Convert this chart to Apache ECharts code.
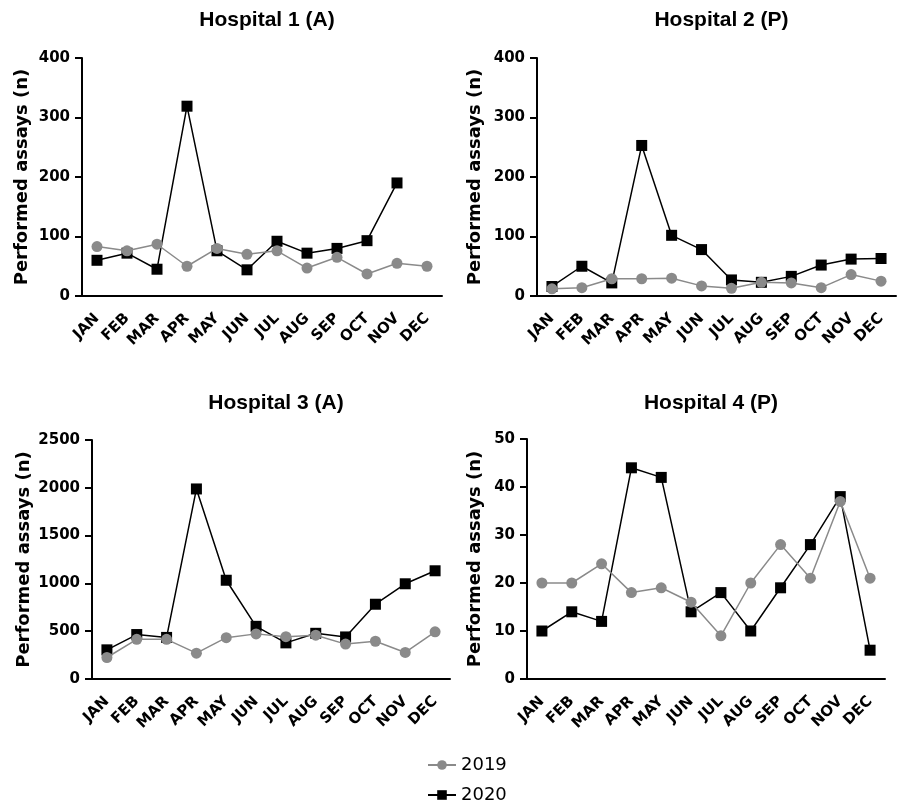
<!DOCTYPE html>
<html>
<head>
<meta charset="utf-8">
<script src="https://cdn.jsdelivr.net/npm/echarts@6/dist/echarts.min.js"></script>
<style>
html,body{margin:0;padding:0;background:#fff;}
#chart{width:899px;height:805px;}
</style>
</head>
<body>
<div id="chart"></div>
<script>
const months = ['JAN','FEB','MAR','APR','MAY','JUN','JUL','AUG','SEP','OCT','NOV','DEC'];
const titles = ['Hospital 1 (A)','Hospital 2 (P)','Hospital 3 (A)','Hospital 4 (P)'];
const seriesNames = ['2019','2020'];

const h1_2019 = [83,76,87,50,80,70,76,47,65,37,55,50];
const h1_2020 = [60,72,45,319,76,44,92,72,80,93,190,null];
const h2_2019 = [12,14,29,29,30,17,13,23,22,14,36,25];
const h2_2020 = [16,50,22,253,102,78,27,23,33,52,62,63];
const h3_2019 = [225,415,415,270,432,472,443,458,365,395,278,493];
const h3_2020 = [305,465,435,1988,1033,551,378,478,440,782,996,1132];
const h4_2019 = [20,20,24,18,19,16,9,20,28,21,37,21];
const h4_2020 = [10,14,12,44,42,14,18,10,19,28,38,6];

const yMax = [400,400,2500,50];
const yInterval = [100,100,500,10];

const data2019 = [h1_2019,h2_2019,h3_2019,h4_2019];
const data2020 = [h1_2020,h2_2020,h3_2020,h4_2020];

const grids = [
  {left:82, top:58, width:360, height:238},
  {left:537, top:58, width:359, height:238},
  {left:92, top:440, width:358, height:239},
  {left:527, top:439, width:358, height:240}
];
const titleTops = [5, 5, 388, 388];
const nameGaps = [51, 53, 59, 43];

const FONT = 'DejaVu Sans';
const gray = '#8a8a8a';

const option = {
  animation:false,
  backgroundColor:'#fff',
  title: titles.map((t,i)=>({
    text:t,
    left: grids[i].left + grids[i].width/2,
    top: titleTops[i],
    textAlign:'center',
    textStyle:{fontFamily:'Liberation Sans',fontWeight:'bold',fontSize:21,color:'#000'}
  })),
  legend: seriesNames.map((n,k)=>({
    data:[n],
    orient:'vertical',
    left:422,
    top:751 + k*30,
    itemWidth:28,
    itemHeight:12,
    textStyle:{fontFamily:FONT,fontSize:18,color:'#000'}
  })),
  grid: grids,
  xAxis: grids.map((g,i)=>({
    type:'category',
    gridIndex:i,
    data:months,
    boundaryGap:true,
    axisLine:{lineStyle:{color:'#000',width:2}},
    axisTick:{alignWithLabel:true,length:8,lineStyle:{color:'#000',width:2}},
    axisLabel:{rotate:45,margin:20,interval:0,fontFamily:FONT,fontWeight:'bold',fontSize:15,color:'#000'}
  })),
  yAxis: grids.map((g,i)=>({
    type:'value',
    gridIndex:i,
    min:0,
    max:yMax[i],
    interval:yInterval[i],
    name:'Performed assays (n)',
    nameLocation:'middle',
    nameGap:nameGaps[i],
    nameTextStyle:{fontFamily:FONT,fontWeight:'bold',fontSize:18,color:'#000'},
    splitLine:{show:false},
    axisLine:{show:true,lineStyle:{color:'#000',width:2}},
    axisTick:{show:true,length:7,lineStyle:{color:'#000',width:2}},
    axisLabel:{margin:12,fontFamily:FONT,fontWeight:'bold',fontSize:15,color:'#000',formatter:v=>String(v)}
  })),
  series: []
};

for (let i=0;i<4;i++){
  option.series.push({
    name:'2020',
    type:'line',
    xAxisIndex:i, yAxisIndex:i,
    data:data2020[i],
    symbol:'rect',
    symbolSize:11,
    z:2,
    itemStyle:{color:'#000'},
    lineStyle:{color:'#000',width:1.5}
  });
  option.series.push({
    name:'2019',
    type:'line',
    xAxisIndex:i, yAxisIndex:i,
    data:data2019[i],
    symbol:'circle',
    symbolSize:11,
    z:3,
    itemStyle:{color:gray},
    lineStyle:{color:gray,width:1.5}
  });
}

const chart = echarts.init(document.getElementById('chart'),null,{renderer:'canvas'});
chart.setOption(option);
</script>
</body>
</html>
